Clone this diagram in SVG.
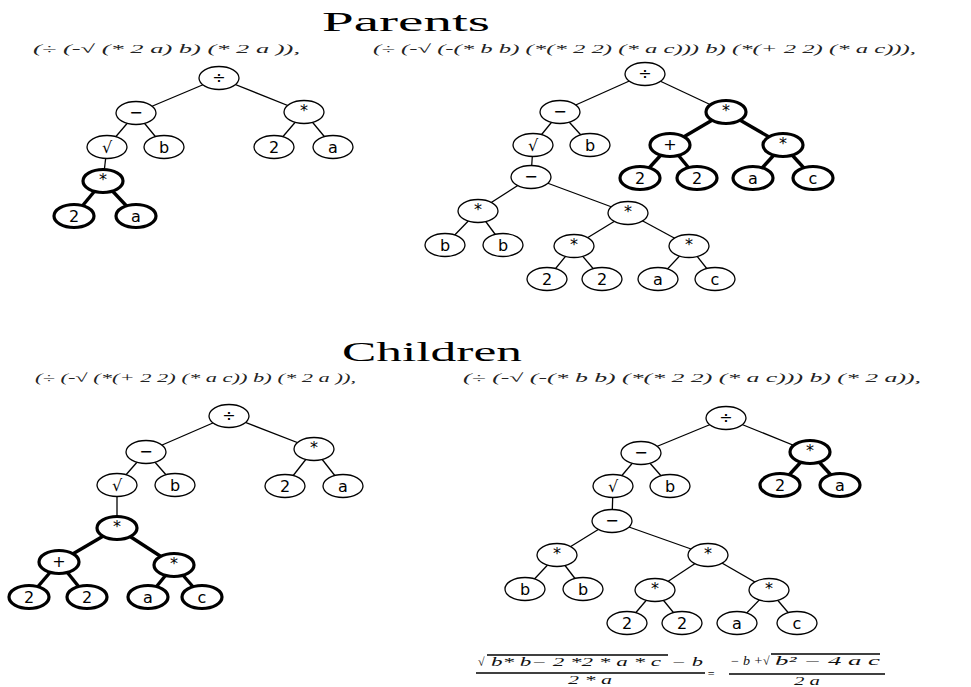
<svg xmlns="http://www.w3.org/2000/svg" width="971" height="687" viewBox="0 0 971 687">
<style>
.bg{fill:#fff}
.node ellipse{fill:#fff;stroke:#000;stroke-width:1.3}
.node.bold ellipse{stroke-width:3.2}
.node text{font-family:"DejaVu Sans","Liberation Sans",sans-serif;font-size:16px;text-anchor:middle;dominant-baseline:central;fill:#000}
.e{stroke:#000;stroke-width:1.3;fill:none}
.eb{stroke:#000;stroke-width:3.4;fill:none}
.hd{font-family:"Liberation Serif",serif;font-size:28px;fill:#000}
.ex{font-family:"Liberation Serif",serif;font-style:italic;font-size:12px;fill:#222}
.fm{font-family:"Liberation Serif",serif;font-style:italic;font-size:12px;fill:#111}
</style>
<rect class="bg" width="971" height="687"/>
<text class="hd" x="322" y="31" textLength="168" lengthAdjust="spacingAndGlyphs">Parents</text>
<text class="hd" x="342" y="361" textLength="180" lengthAdjust="spacingAndGlyphs">Children</text>
<text class="ex" x="33" y="53" textLength="267" lengthAdjust="spacingAndGlyphs">(÷ (-√ (* 2 a) b) (* 2 a )),</text>
<text class="ex" x="373" y="53" textLength="543" lengthAdjust="spacingAndGlyphs">(÷ (-√ (-(* b b) (*(* 2 2) (* a c))) b) (*(+ 2 2) (* a c))),</text>
<text class="ex" x="35" y="382" textLength="321" lengthAdjust="spacingAndGlyphs">(÷ (-√ (*(+ 2 2) (* a c)) b) (* 2 a )),</text>
<text class="ex" x="463" y="382" textLength="458" lengthAdjust="spacingAndGlyphs">(÷ (-√ (-(* b b) (*(* 2 2) (* a c))) b) (* 2 a)),</text>
<g id="connectors">
<line class="e" x1="219" y1="78" x2="136" y2="113"/>
<line class="e" x1="219" y1="78" x2="304" y2="112"/>
<line class="e" x1="136" y1="113" x2="107" y2="147"/>
<line class="e" x1="136" y1="113" x2="164" y2="147"/>
<line class="e" x1="304" y1="112" x2="274" y2="147"/>
<line class="e" x1="304" y1="112" x2="333" y2="147"/>
<line class="e" x1="107" y1="147" x2="103" y2="181"/>
<line class="eb" x1="103" y1="181" x2="74" y2="216"/>
<line class="eb" x1="103" y1="181" x2="136" y2="216"/>
<line class="e" x1="645" y1="74" x2="560" y2="112"/>
<line class="e" x1="645" y1="74" x2="726" y2="112"/>
<line class="e" x1="560" y1="112" x2="533" y2="145"/>
<line class="e" x1="560" y1="112" x2="590" y2="145"/>
<line class="eb" x1="726" y1="112" x2="670" y2="145"/>
<line class="eb" x1="726" y1="112" x2="783" y2="145"/>
<line class="eb" x1="670" y1="145" x2="640" y2="178"/>
<line class="eb" x1="670" y1="145" x2="697" y2="178"/>
<line class="eb" x1="783" y1="145" x2="753" y2="178"/>
<line class="eb" x1="783" y1="145" x2="813" y2="178"/>
<line class="e" x1="533" y1="145" x2="531" y2="177"/>
<line class="e" x1="531" y1="177" x2="478" y2="211"/>
<line class="e" x1="531" y1="177" x2="628" y2="213"/>
<line class="e" x1="478" y1="211" x2="445" y2="245"/>
<line class="e" x1="478" y1="211" x2="503" y2="245"/>
<line class="e" x1="628" y1="213" x2="574" y2="246"/>
<line class="e" x1="628" y1="213" x2="689" y2="246"/>
<line class="e" x1="574" y1="246" x2="547" y2="279"/>
<line class="e" x1="574" y1="246" x2="602" y2="279"/>
<line class="e" x1="689" y1="246" x2="658" y2="279"/>
<line class="e" x1="689" y1="246" x2="715" y2="279"/>
<line class="e" x1="229" y1="416" x2="146" y2="452"/>
<line class="e" x1="229" y1="416" x2="314" y2="449"/>
<line class="e" x1="146" y1="452" x2="117" y2="485"/>
<line class="e" x1="146" y1="452" x2="175" y2="485"/>
<line class="e" x1="314" y1="449" x2="285" y2="486"/>
<line class="e" x1="314" y1="449" x2="343" y2="486"/>
<line class="e" x1="117" y1="485" x2="117" y2="528"/>
<line class="eb" x1="117" y1="528" x2="59" y2="562"/>
<line class="eb" x1="117" y1="528" x2="174" y2="565"/>
<line class="eb" x1="59" y1="562" x2="29" y2="597"/>
<line class="eb" x1="59" y1="562" x2="87" y2="597"/>
<line class="eb" x1="174" y1="565" x2="148" y2="597"/>
<line class="eb" x1="174" y1="565" x2="202" y2="597"/>
<line class="e" x1="726" y1="418" x2="641" y2="453"/>
<line class="e" x1="726" y1="418" x2="810" y2="452"/>
<line class="e" x1="641" y1="453" x2="613" y2="486"/>
<line class="e" x1="641" y1="453" x2="670" y2="486"/>
<line class="eb" x1="810" y1="452" x2="780" y2="485"/>
<line class="eb" x1="810" y1="452" x2="840" y2="485"/>
<line class="e" x1="613" y1="486" x2="612" y2="521"/>
<line class="e" x1="612" y1="521" x2="557" y2="555"/>
<line class="e" x1="612" y1="521" x2="708" y2="555"/>
<line class="e" x1="557" y1="555" x2="525" y2="589"/>
<line class="e" x1="557" y1="555" x2="583" y2="589"/>
<line class="e" x1="708" y1="555" x2="655" y2="590"/>
<line class="e" x1="708" y1="555" x2="769" y2="590"/>
<line class="e" x1="655" y1="590" x2="627" y2="623"/>
<line class="e" x1="655" y1="590" x2="682" y2="623"/>
<line class="e" x1="769" y1="590" x2="737" y2="623"/>
<line class="e" x1="769" y1="590" x2="797" y2="623"/>
</g>
<g id="p1n0" class="node"><ellipse cx="219" cy="78" rx="20" ry="11.5"/><text x="219" y="77">÷</text></g>
<g id="p1n1" class="node"><ellipse cx="136" cy="113" rx="20" ry="11.5"/><text x="136" y="112">−</text></g>
<g id="p1n2" class="node"><ellipse cx="304" cy="112" rx="20" ry="11.5"/><text x="304" y="110">*</text></g>
<g id="p1n3" class="node"><ellipse cx="107" cy="147" rx="20" ry="11.5"/><text x="107" y="147">√</text></g>
<g id="p1n4" class="node"><ellipse cx="164" cy="147" rx="20" ry="11.5"/><text x="164" y="147">b</text></g>
<g id="p1n5" class="node"><ellipse cx="274" cy="147" rx="20" ry="11.5"/><text x="274" y="147">2</text></g>
<g id="p1n6" class="node"><ellipse cx="333" cy="147" rx="20" ry="11.5"/><text x="333" y="147">a</text></g>
<g id="p1n7" class="node bold"><ellipse cx="103" cy="181" rx="20" ry="11.5"/><text x="103" y="179">*</text></g>
<g id="p1n8" class="node bold"><ellipse cx="74" cy="216" rx="20" ry="11.5"/><text x="74" y="216">2</text></g>
<g id="p1n9" class="node bold"><ellipse cx="136" cy="216" rx="20" ry="11.5"/><text x="136" y="216">a</text></g>
<g id="p2n0" class="node"><ellipse cx="645" cy="74" rx="20" ry="11.5"/><text x="645" y="73">÷</text></g>
<g id="p2n1" class="node"><ellipse cx="560" cy="112" rx="20" ry="11.5"/><text x="560" y="111">−</text></g>
<g id="p2n2" class="node bold"><ellipse cx="726" cy="112" rx="20" ry="11.5"/><text x="726" y="110">*</text></g>
<g id="p2n3" class="node"><ellipse cx="533" cy="145" rx="20" ry="11.5"/><text x="533" y="145">√</text></g>
<g id="p2n4" class="node"><ellipse cx="590" cy="145" rx="20" ry="11.5"/><text x="590" y="145">b</text></g>
<g id="p2n5" class="node bold"><ellipse cx="670" cy="145" rx="20" ry="11.5"/><text x="670" y="144">+</text></g>
<g id="p2n6" class="node bold"><ellipse cx="783" cy="145" rx="20" ry="11.5"/><text x="783" y="143">*</text></g>
<g id="p2n7" class="node bold"><ellipse cx="640" cy="178" rx="20" ry="11.5"/><text x="640" y="178">2</text></g>
<g id="p2n8" class="node bold"><ellipse cx="697" cy="178" rx="20" ry="11.5"/><text x="697" y="178">2</text></g>
<g id="p2n9" class="node bold"><ellipse cx="753" cy="178" rx="20" ry="11.5"/><text x="753" y="178">a</text></g>
<g id="p2n10" class="node bold"><ellipse cx="813" cy="178" rx="20" ry="11.5"/><text x="813" y="178">c</text></g>
<g id="p2n11" class="node"><ellipse cx="531" cy="177" rx="20" ry="11.5"/><text x="531" y="176">−</text></g>
<g id="p2n12" class="node"><ellipse cx="478" cy="211" rx="20" ry="11.5"/><text x="478" y="209">*</text></g>
<g id="p2n13" class="node"><ellipse cx="628" cy="213" rx="20" ry="11.5"/><text x="628" y="211">*</text></g>
<g id="p2n14" class="node"><ellipse cx="445" cy="245" rx="20" ry="11.5"/><text x="445" y="245">b</text></g>
<g id="p2n15" class="node"><ellipse cx="503" cy="245" rx="20" ry="11.5"/><text x="503" y="245">b</text></g>
<g id="p2n16" class="node"><ellipse cx="574" cy="246" rx="20" ry="11.5"/><text x="574" y="244">*</text></g>
<g id="p2n17" class="node"><ellipse cx="689" cy="246" rx="20" ry="11.5"/><text x="689" y="244">*</text></g>
<g id="p2n18" class="node"><ellipse cx="547" cy="279" rx="20" ry="11.5"/><text x="547" y="279">2</text></g>
<g id="p2n19" class="node"><ellipse cx="602" cy="279" rx="20" ry="11.5"/><text x="602" y="279">2</text></g>
<g id="p2n20" class="node"><ellipse cx="658" cy="279" rx="20" ry="11.5"/><text x="658" y="279">a</text></g>
<g id="p2n21" class="node"><ellipse cx="715" cy="279" rx="20" ry="11.5"/><text x="715" y="279">c</text></g>
<g id="c1n0" class="node"><ellipse cx="229" cy="416" rx="20" ry="11.5"/><text x="229" y="415">÷</text></g>
<g id="c1n1" class="node"><ellipse cx="146" cy="452" rx="20" ry="11.5"/><text x="146" y="451">−</text></g>
<g id="c1n2" class="node"><ellipse cx="314" cy="449" rx="20" ry="11.5"/><text x="314" y="447">*</text></g>
<g id="c1n3" class="node"><ellipse cx="117" cy="485" rx="20" ry="11.5"/><text x="117" y="485">√</text></g>
<g id="c1n4" class="node"><ellipse cx="175" cy="485" rx="20" ry="11.5"/><text x="175" y="485">b</text></g>
<g id="c1n5" class="node"><ellipse cx="285" cy="486" rx="20" ry="11.5"/><text x="285" y="486">2</text></g>
<g id="c1n6" class="node"><ellipse cx="343" cy="486" rx="20" ry="11.5"/><text x="343" y="486">a</text></g>
<g id="c1n7" class="node bold"><ellipse cx="117" cy="528" rx="20" ry="11.5"/><text x="117" y="526">*</text></g>
<g id="c1n8" class="node bold"><ellipse cx="59" cy="562" rx="20" ry="11.5"/><text x="59" y="561">+</text></g>
<g id="c1n9" class="node bold"><ellipse cx="174" cy="565" rx="20" ry="11.5"/><text x="174" y="563">*</text></g>
<g id="c1n10" class="node bold"><ellipse cx="29" cy="597" rx="20" ry="11.5"/><text x="29" y="597">2</text></g>
<g id="c1n11" class="node bold"><ellipse cx="87" cy="597" rx="20" ry="11.5"/><text x="87" y="597">2</text></g>
<g id="c1n12" class="node bold"><ellipse cx="148" cy="597" rx="20" ry="11.5"/><text x="148" y="597">a</text></g>
<g id="c1n13" class="node bold"><ellipse cx="202" cy="597" rx="20" ry="11.5"/><text x="202" y="597">c</text></g>
<g id="c2n0" class="node"><ellipse cx="726" cy="418" rx="20" ry="11.5"/><text x="726" y="417">÷</text></g>
<g id="c2n1" class="node"><ellipse cx="641" cy="453" rx="20" ry="11.5"/><text x="641" y="452">−</text></g>
<g id="c2n2" class="node bold"><ellipse cx="810" cy="452" rx="20" ry="11.5"/><text x="810" y="450">*</text></g>
<g id="c2n3" class="node"><ellipse cx="613" cy="486" rx="20" ry="11.5"/><text x="613" y="486">√</text></g>
<g id="c2n4" class="node"><ellipse cx="670" cy="486" rx="20" ry="11.5"/><text x="670" y="486">b</text></g>
<g id="c2n5" class="node bold"><ellipse cx="780" cy="485" rx="20" ry="11.5"/><text x="780" y="485">2</text></g>
<g id="c2n6" class="node bold"><ellipse cx="840" cy="485" rx="20" ry="11.5"/><text x="840" y="485">a</text></g>
<g id="c2n7" class="node"><ellipse cx="612" cy="521" rx="20" ry="11.5"/><text x="612" y="520">−</text></g>
<g id="c2n8" class="node"><ellipse cx="557" cy="555" rx="20" ry="11.5"/><text x="557" y="553">*</text></g>
<g id="c2n9" class="node"><ellipse cx="708" cy="555" rx="20" ry="11.5"/><text x="708" y="553">*</text></g>
<g id="c2n10" class="node"><ellipse cx="525" cy="589" rx="20" ry="11.5"/><text x="525" y="589">b</text></g>
<g id="c2n11" class="node"><ellipse cx="583" cy="589" rx="20" ry="11.5"/><text x="583" y="589">b</text></g>
<g id="c2n12" class="node"><ellipse cx="655" cy="590" rx="20" ry="11.5"/><text x="655" y="588">*</text></g>
<g id="c2n13" class="node"><ellipse cx="769" cy="590" rx="20" ry="11.5"/><text x="769" y="588">*</text></g>
<g id="c2n14" class="node"><ellipse cx="627" cy="623" rx="20" ry="11.5"/><text x="627" y="623">2</text></g>
<g id="c2n15" class="node"><ellipse cx="682" cy="623" rx="20" ry="11.5"/><text x="682" y="623">2</text></g>
<g id="c2n16" class="node"><ellipse cx="737" cy="623" rx="20" ry="11.5"/><text x="737" y="623">a</text></g>
<g id="c2n17" class="node"><ellipse cx="797" cy="623" rx="20" ry="11.5"/><text x="797" y="623">c</text></g>
<g id="formula">
<text class="fm" x="478" y="666">√</text>
<line class="e" x1="487" y1="655" x2="668" y2="655" stroke-width="1.1"/>
<text class="fm" x="491" y="666" textLength="170" lengthAdjust="spacingAndGlyphs">b* b− 2 *2 * a * c</text>
<text class="fm" x="671" y="666" textLength="32" lengthAdjust="spacingAndGlyphs">− b</text>
<line class="e" x1="476" y1="673" x2="705" y2="673" stroke-width="1.1"/>
<text class="fm" x="568" y="684" textLength="44" lengthAdjust="spacingAndGlyphs">2 * a</text>
<text class="fm" x="707" y="678" font-size="16" font-style="normal">=</text>
<text class="fm" x="730" y="665" textLength="33" lengthAdjust="spacingAndGlyphs">− b +</text>
<text class="fm" x="763" y="665">√</text>
<line class="e" x1="771" y1="654" x2="880" y2="654" stroke-width="1.1"/>
<text class="fm" x="775" y="665" textLength="105" lengthAdjust="spacingAndGlyphs">b² − 4 a c</text>
<line class="e" x1="729" y1="674" x2="885" y2="674" stroke-width="1.1"/>
<text class="fm" x="794" y="685" textLength="26" lengthAdjust="spacingAndGlyphs">2 a</text>
</g>
</svg>
